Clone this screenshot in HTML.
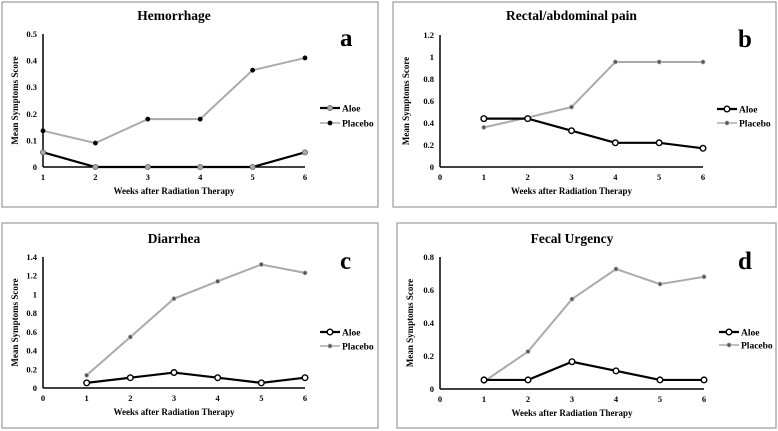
<!DOCTYPE html>
<html><head><meta charset="utf-8"><style>
body{margin:0;background:#fff;}
svg{display:block;font-family:"Liberation Serif",serif;font-weight:bold;}
</style></head><body>
<svg id="chart" width="778" height="431" viewBox="0 0 778 431" xmlns="http://www.w3.org/2000/svg"></svg>
<script>
const weeks=[1,2,3,4,5,6];
const titles=["Hemorrhage","Rectal/abdominal pain","Diarrhea","Fecal Urgency"];
const letters=["a","b","c","d"];
const aloeA=[0.055,0,0,0,0,0.055];
const placeboA=[0.136,0.09,0.18,0.18,0.364,0.41];
const aloeB=[0.44,0.44,0.33,0.22,0.22,0.17];
const placeboB=[0.36,0.45,0.545,0.955,0.955,0.955];
const aloeC=[0.055,0.11,0.165,0.11,0.055,0.11];
const placeboC=[0.136,0.545,0.955,1.14,1.32,1.23];
const aloeD=[0.055,0.055,0.165,0.11,0.055,0.055];
const placeboD=[0.045,0.227,0.545,0.727,0.636,0.68];
const yTicksA=["0","0.1","0.2","0.3","0.4","0.5"];
const yTicksB=["0","0.2","0.4","0.6","0.8","1","1.2"];
const yTicksC=["0","0.2","0.4","0.6","0.8","1","1.2","1.4"];
const yTicksD=["0","0.2","0.4","0.6","0.8"];
const xTicksA=["1","2","3","4","5","6"];
const xTicksB=["0","1","2","3","4","5","6"];

const NS="http://www.w3.org/2000/svg";
const svg=document.getElementById('chart');
function mk(tag,attrs,parent,text){const e=document.createElementNS(NS,tag);for(const k in attrs)e.setAttribute(k,attrs[k]);if(text!==undefined)e.textContent=text;(parent||svg).appendChild(e);return e;}

const panels=[
 {box:[2,2,376,205],x0:43,x1:305,xmin:1,xmax:6,y0:167,y1:34,ymax:0.5,yt:yTicksA,xt:xTicksA,aloe:aloeA,pl:placeboA,ty:20,leg:[320,108,123],style:"a"},
 {box:[393,2,383,205],x0:440,x1:703,xmin:0,xmax:6,y0:167,y1:35,ymax:1.2,yt:yTicksB,xt:xTicksB,aloe:aloeB,pl:placeboB,ty:20,leg:[717,109,123],style:"b"},
 {box:[2,223,376,205],x0:43,x1:305,xmin:0,xmax:6,y0:388,y1:257,ymax:1.4,yt:yTicksC,xt:xTicksB,aloe:aloeC,pl:placeboC,ty:243,leg:[320,332,346],style:"b"},
 {box:[397,223,379,205],x0:440,x1:704,xmin:0,xmax:6,y0:389,y1:257,ymax:0.8,yt:yTicksD,xt:xTicksB,aloe:aloeD,pl:placeboD,ty:243,leg:[719,332,345],style:"b"}
];

panels.forEach((p,i)=>{
 const g=mk('g',{});
 
 
 const [bx,by,bw,bh]=p.box;
 const fr=mk('rect',{x:bx,y:by,width:bw,height:bh,fill:'#fff',stroke:'#999','stroke-width':1.2},g);
 
 
 const xs=v=>p.x0+(v-p.xmin)/(p.xmax-p.xmin)*(p.x1-p.x0);
 const ys=v=>p.y0-v/p.ymax*(p.y0-p.y1);
 const t=mk('text',{x:(p.x0+p.x1)/2,y:p.ty,'text-anchor':'middle','font-size':13.5},g,titles[i]);
 
 
 const L=mk('text',{x:bx+bw-38,y:p.y1+12,'font-size':25},g,letters[i]);
 
 
 const ya=mk('line',{x1:p.x0,y1:p.y1,x2:p.x0,y2:p.y0,stroke:'#000','stroke-width':1.5},g);
 
 
 const xa=mk('line',{x1:p.x0,y1:p.y0,x2:p.x1,y2:p.y0,stroke:'#000','stroke-width':1.5},g);
 
 
 p.yt.forEach((lab,k)=>{
  const v=k*p.ymax/(p.yt.length-1);
  const e=mk('text',{x:p.x0-6,y:ys(v)+3,'text-anchor':'end','font-size':8.5},g,lab);
  
  
 });
 p.xt.forEach(lab=>{
  const e=mk('text',{x:xs(+lab),y:p.y0+13,'text-anchor':'middle','font-size':8.5},g,lab);
  
  
 });
 const xt=mk('text',{x:(p.x0+p.x1)/2,y:p.y0+27,'text-anchor':'middle','font-size':9},g,'Weeks after Radiation Therapy');
 
 
 const ytx=bx+16, yty=(p.y0+p.y1)/2;
 const yt=mk('text',{x:ytx,y:yty,'text-anchor':'middle','font-size':9,transform:`rotate(-90 ${ytx} ${yty})`},g,'Mean Symptoms Score');
 
 
 const pts=arr=>arr.map((v,k)=>xs(weeks[k])+','+ys(v)).join(' ');
 const pl=mk('polyline',{points:pts(p.pl),fill:'none',stroke:'#aaa','stroke-width':2},g);
 
 
 const al=mk('polyline',{points:pts(p.aloe),fill:'none',stroke:'#000','stroke-width':2.2},g);
 
 
 function aloeMark(x,y,parent){
  if(p.style==="a") return mk('circle',{cx:x,cy:y,r:2.6,fill:'#aaa',stroke:'#666','stroke-width':0.8},parent);
  return mk('circle',{cx:x,cy:y,r:2.8,fill:'#fff',stroke:'#000','stroke-width':1.4},parent);
 }
 function plMark(x,y,parent){
  if(p.style==="a") return mk('circle',{cx:x,cy:y,r:2.4,fill:'#000'},parent);
  return mk('circle',{cx:x,cy:y,r:2.1,fill:'#555',stroke:'#bbb','stroke-width':0.8},parent);
 }
 p.pl.forEach((v,k)=>{const m=plMark(xs(weeks[k]),ys(v),g);
  
  });
 p.aloe.forEach((v,k)=>{const m=aloeMark(xs(weeks[k]),ys(v),g);
  
  });
 const [lx,ly1,ly2]=p.leg;
 const le1=mk('g',{},g);
 
 
 mk('line',{x1:lx,y1:ly1,x2:lx+20,y2:ly1,stroke:'#000','stroke-width':2.2},le1);
 aloeMark(lx+10,ly1,le1);
 mk('text',{x:lx+22,y:ly1+3.5,'font-size':9.5},le1,'Aloe');
 const le2=mk('g',{},g);
 
 
 mk('line',{x1:lx,y1:ly2,x2:lx+20,y2:ly2,stroke:'#aaa','stroke-width':1.5},le2);
 plMark(lx+10,ly2,le2);
 mk('text',{x:lx+22,y:ly2+3.5,'font-size':9.5},le2,'Placebo');
});
</script>
</body></html>
